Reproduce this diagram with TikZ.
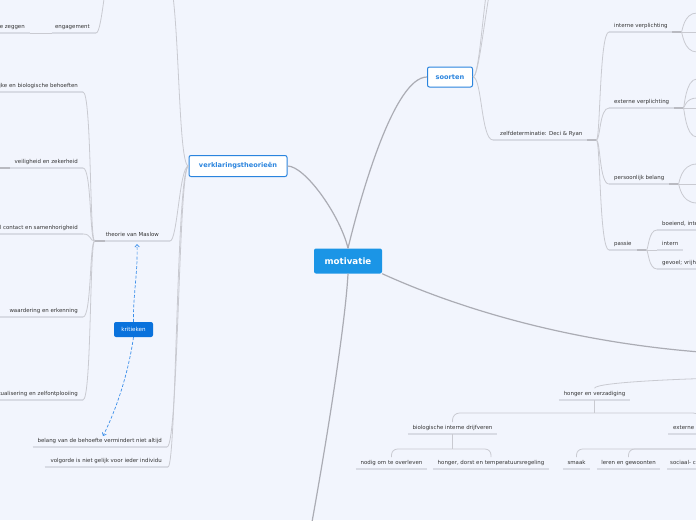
\documentclass[tikz,border=0pt]{standalone}
\usepackage{fontspec}
\setmainfont{DejaVu Sans}
\usetikzlibrary{arrows.meta,calc}
\definecolor{bgc}{HTML}{F2F5FD}
\definecolor{txt}{HTML}{333333}
\definecolor{mainln}{HTML}{ABACB4}
\definecolor{brln}{HTML}{C9CAD1}
\definecolor{uln}{HTML}{D8DBE4}
\definecolor{ucol}{HTML}{B9BAC1}
\definecolor{mblue}{HTML}{1B95E6}
\definecolor{bblue}{HTML}{2A84DE}
\definecolor{kblue}{HTML}{0A72DC}
\definecolor{dblue}{HTML}{3A8EEA}
\newcommand{\bx}[3]{\makebox[#1pt][#2]{#3}}
\begin{document}
\begin{tikzpicture}[x=1pt,y=-1pt,
 leaf/.style={font=\fontsize{5.45}{6.5}\selectfont, text=txt, inner xsep=0pt, inner ysep=3pt, text height=4pt, text depth=1.4pt},
 uline/.style={draw=uln, line width=1.4pt},
 ucoll/.style={draw=ucol, line width=1.4pt},
 conn/.style={draw=brln, line width=0.8pt},
 mconn/.style={draw=mainln, line width=1.2pt},
 hs/.style 2 args={to path={.. controls ($(\tikztostart)+(#1,0)$) and ($(\tikztostart |- \tikztotarget)+(#2,0)$) .. (\tikztotarget)}},
 mnode/.style={fill=mblue, rounded corners=2pt, text=white, font=\fontsize{8.7}{10}\selectfont\bfseries, minimum width=68pt, minimum height=25pt, inner sep=0pt},
 wnode/.style={fill=white, draw=bblue, line width=1pt, rounded corners=2pt, text=bblue, font=\fontsize{6.6}{7.5}\selectfont\bfseries, inner sep=0pt},
 knode/.style={fill=kblue, rounded corners=2pt, text=white, font=\fontsize{5.6}{6.5}\selectfont, minimum width=39pt, minimum height=15pt, inner sep=0pt},
 krit/.style={draw=dblue, line width=0.7pt, dash pattern=on 3pt off 1.8pt, -{Straight Barb[length=2.5pt,width=4.5pt]}}
]
\path[use as bounding box] (0,0) rectangle (696,520);
\fill[bgc] (0,0) rectangle (696,520);
\begin{scope}
\clip (0,0) rectangle (696,520);
% off-canvas ends
\coordinate (vtU) at (165,-30);
\coordinate (engU) at (115,-40);
\coordinate (soU1) at (495,-40);
\coordinate (soU2) at (500,-40);
\coordinate (mR) at (730,354);
\coordinate (mD) at (305,560);
\coordinate (hvP) at (720,378);
\coordinate (kt1) at (137,244);
\coordinate (kt2) at (103,436);
\coordinate (ivA) at (697,13);
\coordinate (ivB) at (697,52);
\coordinate (evA) at (697,79);
\coordinate (evB) at (697,98);
\coordinate (evC) at (697,137);
\coordinate (pbA) at (697,164);
\coordinate (pbB) at (697,203);
\coordinate (vzA) at (-12,145);
\coordinate (vzB) at (-12,190);

% main nodes
\node[mnode] (mo) at (348,261) {motivatie};
\node[wnode, minimum width=98pt, minimum height=21pt] (vt) at (238,166) {verklaringstheorieën};
\node[wnode, minimum width=45pt, minimum height=20pt] (so) at (450,77) {soorten};
\node[knode] (kr) at (133.5,329.5) {kritieken};

% right side
\node[leaf, anchor=south west] (zd) at (493,140) {\bx{103}{l}{\hspace{7pt}zelfdeterminatie: Deci \& Ryan}};
\node[leaf, anchor=south west] (iv) at (609,32) {\bx{72}{l}{\hspace{5pt}interne verplichting}};
\node[leaf, anchor=south west] (ev) at (609,108) {\bx{74}{l}{\hspace{5pt}externe verplichting}};
\node[leaf, anchor=south west] (pb) at (609,184) {\bx{69}{l}{\hspace{5pt}persoonlijk belang}};
\node[leaf, anchor=south west] (pa) at (609,250) {\bx{37}{l}{\hspace{5pt}passie}};
\node[leaf, anchor=south west] (bo) at (657,230) {\bx{70}{l}{\hspace{5pt}boeiend, interessant}};
\node[leaf, anchor=south west] (it) at (657,250) {\bx{26}{l}{\hspace{5pt}intern}};
\node[leaf, anchor=south west] (gv) at (657,269) {\bx{70}{l}{\hspace{5pt}gevoel; vrijheid}};

% left side
\node[leaf, anchor=south east] (eng) at (96,33) {\bx{44}{r}{engagement\hspace{6pt}}};
\node[leaf, anchor=south east] (ez) at (30,33) {\bx{60}{r}{e zeggen\hspace{5pt}}};
\node[leaf, anchor=south east] (ma) at (170,241) {\bx{75}{c}{theorie van Maslow}};
\node[leaf, anchor=south east] (lb) at (83,92) {\bx{140}{r}{lichamelijke en biologische behoeften\hspace{5pt}}};
\node[leaf, anchor=south east] (vz) at (83,168) {\bx{83}{r}{veiligheid en zekerheid\hspace{5pt}}};
\node[leaf, anchor=south east] (sc) at (83,234) {\bx{140}{r}{sociaal contact en samenhorigheid\hspace{5pt}}};
\node[leaf, anchor=south east] (we) at (83,317) {\bx{90}{r}{waardering en erkenning\hspace{5pt}}};
\node[leaf, anchor=south east] (za) at (83,400) {\bx{140}{r}{zelfactualisering en zelfontplooiing\hspace{5pt}}};
\node[leaf, anchor=south east] (be) at (167,447) {\bx{134}{r}{belang van de behoefte vermindert niet altijd\hspace{5pt}}};
\node[leaf, anchor=south east] (vo) at (168,467) {\bx{123}{r}{volgorde is niet gelijk voor ieder individu\hspace{6pt}}};

% bottom tree
\node[leaf, anchor=south] (hv) at (594.5,400) {\bx{71}{c}{honger en verzadiging}};
\node[leaf, anchor=south] (bi) at (452.5,434) {\bx{89}{c}{biologische interne drijfveren}};
\node[leaf, anchor=south west] (ex) at (668,434) {\bx{64}{l}{\hspace{5pt}externe drijfveren}};
\node[leaf, anchor=south] (no) at (391.5,469) {\bx{71}{c}{nodig om te overleven}};
\node[leaf, anchor=south] (ho) at (491,469) {\bx{116}{c}{honger, dorst en temperatuursregeling}};
\node[leaf, anchor=south] (sm) at (576.5,469) {\bx{27}{c}{smaak}};
\node[leaf, anchor=south] (le) at (628.5,469) {\bx{63}{c}{leren en gewoonten}};
\node[leaf, anchor=south west] (sf) at (667,469) {\bx{80}{l}{\hspace{3pt}sociaal- culturele factoren}};

% underlines
\foreach \n in {zd,iv,ev,pb,pa,bo,it,gv,eng,ez,ma,lb,vz,sc,we,za,be,vo,hv,bi,ex,no,ho,sm,le,sf}
  \draw[uline] (\n.south west) -- (\n.south east);
\foreach \n in {zd,iv,ev,pb,pa}
  \draw[ucoll] ($(\n.south east)+(-9,0)$) -- (\n.south east);
\foreach \n in {ma,vz}
  \draw[ucoll] (\n.south west) -- ++(10,0);

% main connectors
\draw[mconn] (mo.north) .. controls (340,215) and (305,166) .. (vt.east);
\draw[mconn] (mo.north) .. controls (362,190) and (395,77) .. (so.west);
\draw[mconn] (mo.south east) .. controls (440,300) and (560,345) .. (mR);
\draw[mconn] (mo.south) .. controls (345,330) and (322,470) .. (mD);

% soorten
\draw[conn] (so.east) to[hs={9}{8}] (zd.south west);
\draw[conn] (so.east) to[hs={8}{12}] (soU1);
\draw[conn] (so.east) to[hs={8}{16}] (soU2);
\foreach \n in {iv,ev,pb,pa}
  \draw[conn] (zd.south east) to[hs={4}{3}] (\n.south west);
\draw[conn] (iv.south east) to[hs={1}{2}] (ivA) -- ++(20,0);
\draw[conn] (iv.south east) -- ++(25,0);
\draw[conn] (iv.south east) to[hs={1}{2}] (ivB) -- ++(20,0);
\draw[conn] (ev.south east) to[hs={1}{2}] (evA) -- ++(20,0);
\draw[conn] (ev.south east) to[hs={1}{2}] (evB) -- ++(20,0);
\draw[conn] (ev.south east) -- ++(25,0);
\draw[conn] (ev.south east) to[hs={1}{2}] (evC) -- ++(20,0);
\draw[conn] (pb.south east) to[hs={1}{2}] (pbA) -- ++(20,0);
\draw[conn] (pb.south east) -- ++(25,0);
\draw[conn] (pb.south east) to[hs={1}{2}] (pbB) -- ++(20,0);
\draw[conn] (pa.south east) to[hs={2}{2}] (bo.south west);
\draw[conn] (pa.south east) -- (it.south west);
\draw[conn] (pa.south east) to[hs={2}{2}] (gv.south west);

% verklaringstheorieen
\draw[conn] (vt.west) to[hs={-12}{-8}] (vtU);
\draw[conn] (vt.west) to[hs={-9}{-11}] (ma.south east);
\draw[conn] (vt.west) to[hs={-10}{-10}] (be.south east);
\draw[conn] (vt.west) to[hs={-12}{-12}] (vo.south east);
\draw[conn] (eng.south east) to[hs={7}{9}] (engU);
\draw[conn] (eng.south west) -- (ez.south east);
\foreach \n in {lb,vz,sc,we,za}
  \draw[conn] (ma.south west) to[hs={-5}{-3}] (\n.south east);
\draw[conn] (vz.south west) to[hs={-1}{-2}] (vzA);
\draw[conn] (vz.south west) to[hs={-1}{-2}] (vzB);

% kritieken
\draw[krit] (kr.north) .. controls (133,295) and (138,272) .. (kt1);
\draw[krit] (kr.south) .. controls (128,375) and (116,410) .. (kt2);

% bottom tree connectors
\draw[conn] (hv.north) .. controls +(2,-6) and +(-40,1) .. (hvP);
\coordinate (hvj) at ($(hv.south)+(0,13)$);
\draw[conn] (hv.south) -- (hvj);
\draw[conn, rounded corners=7pt] (hvj) -| (bi.north);
\draw[conn, rounded corners=7pt] (hvj) -| (ex.north);
\coordinate (bij) at ($(bi.south)+(0,15)$);
\draw[conn] (bi.south) -- (bij);
\draw[conn, rounded corners=6pt] (bij) -| (no.north);
\draw[conn, rounded corners=6pt] (bij) -| (ho.north);
\coordinate (exj) at ($(ex.south)+(0,15)$);
\draw[conn] (ex.south) -- (exj);
\draw[conn, rounded corners=6pt] (exj) -| (sm.north);
\draw[conn, rounded corners=6pt] (exj) -| (le.north);
\draw[conn, rounded corners=6pt] (exj) -| (sf.north);
\end{scope}
\end{tikzpicture}
\end{document}
